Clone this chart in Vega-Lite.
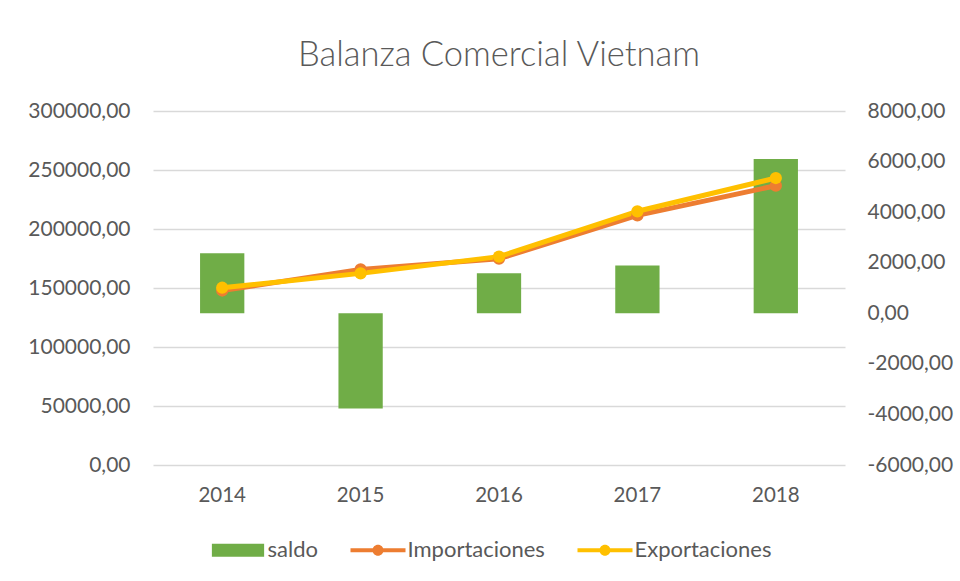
{
  "$schema": "https://vega.github.io/schema/vega-lite/v6.json",
  "width": 692,
  "height": 354,
  "autosize": {"type": "none"},
  "padding": {"left": 153, "top": 111, "right": 115, "bottom": 116},
  "background": "white",
  "title": {
    "text": "Balanza Comercial Vietnam",
    "font": "Lato",
    "fontSize": 34.5,
    "fontWeight": 300,
    "color": "#595959",
    "anchor": "middle",
    "offset": 27
  },
  "config": {
    "font": "Lato",
    "view": {"stroke": null}
  },
  "data": {
    "values": [
      {"year": "2014", "serie": "saldo", "value": 2370},
      {"year": "2015", "serie": "saldo", "value": -3770},
      {"year": "2016", "serie": "saldo", "value": 1580},
      {"year": "2017", "serie": "saldo", "value": 1890},
      {"year": "2018", "serie": "saldo", "value": 6100},
      {"year": "2014", "serie": "Importaciones", "value": 147850},
      {"year": "2015", "serie": "Importaciones", "value": 165780},
      {"year": "2016", "serie": "Importaciones", "value": 174800},
      {"year": "2017", "serie": "Importaciones", "value": 211500},
      {"year": "2018", "serie": "Importaciones", "value": 236700},
      {"year": "2014", "serie": "Exportaciones", "value": 150220},
      {"year": "2015", "serie": "Exportaciones", "value": 162400},
      {"year": "2016", "serie": "Exportaciones", "value": 176580},
      {"year": "2017", "serie": "Exportaciones", "value": 215000},
      {"year": "2018", "serie": "Exportaciones", "value": 243200}
    ]
  },
  "encoding": {
    "x": {
      "field": "year",
      "type": "nominal",
      "sort": null,
      "scale": {"paddingInner": 0.68, "paddingOuter": 0.34},
      "axis": {
        "title": null,
        "labelAngle": 0,
        "labelFont": "Lato",
        "labelFontSize": 20.5,
        "labelColor": "#595959",
        "labelPadding": 20,
        "ticks": false,
        "domain": false,
        "grid": false
      }
    },
    "color": {
      "field": "serie",
      "type": "nominal",
      "scale": {
        "domain": ["saldo", "Importaciones", "Exportaciones"],
        "range": ["#70AD47", "#ED7D31", "#FFC000"]
      },
      "legend": {
        "title": null,
        "orient": "none",
        "direction": "horizontal",
        "legendX": 57.5,
        "legendY": 411.5,
        "labelFont": "Lato",
        "labelFontSize": 22,
        "labelColor": "#595959",
        "labelOffset": 2,
        "columnPadding": 32,
        "symbolSize": 3025,
        "symbolStrokeWidth": 0,
        "symbolOpacity": 1,
        "encode": {
          "symbols": {
            "update": {
              "shape": {"signal": "datum.value === 'saldo' ? 'M-0.95,-0.24L0.95,-0.24L0.95,0.24L-0.95,0.24Z' : 'M-1,-0.075L1,-0.075L1,0.075L-1,0.075Z M0.2,0A0.2,0.2 0 1,1 -0.2,0A0.2,0.2 0 1,1 0.2,0Z'"},
              "fill": {"signal": "datum.value === 'saldo' ? '#70AD47' : datum.value === 'Importaciones' ? '#ED7D31' : '#FFC000'"},
              "stroke": {"value": "transparent"},
              "strokeWidth": {"value": 0},
              "opacity": {"value": 1}
            }
          }
        }
      }
    }
  },
  "layer": [
    {
      "transform": [{"filter": "datum.serie === 'saldo'"}],
      "mark": {"type": "bar"},
      "encoding": {
        "y": {
          "field": "value",
          "type": "quantitative",
          "scale": {"domain": [-6000, 8000], "nice": false, "zero": true},
          "axis": {
            "orient": "right",
            "title": null,
            "values": [-6000, -4000, -2000, 0, 2000, 4000, 6000, 8000],
            "labelExpr": "replace(replace(format(datum.value, '.2f'), '.', ','), '\u2212', '-')",
            "labelFont": "Lato",
            "labelFontSize": 21,
            "labelColor": "#595959",
            "labelPadding": 22,
            "ticks": false,
            "domain": false,
            "grid": false
          }
        }
      }
    },
    {
      "transform": [{"filter": "datum.serie !== 'saldo'"}],
      "mark": {
        "type": "line",
        "strokeWidth": 5,
        "strokeCap": "round",
        "strokeJoin": "round",
        "point": {"filled": true, "size": 150, "opacity": 1}
      },
      "encoding": {
        "y": {
          "field": "value",
          "type": "quantitative",
          "scale": {"domain": [0, 300000], "nice": false},
          "axis": {
            "orient": "left",
            "title": null,
            "values": [0, 50000, 100000, 150000, 200000, 250000, 300000],
            "labelExpr": "replace(format(datum.value, '.2f'), '.', ',')",
            "labelFont": "Lato",
            "labelFontSize": 21,
            "labelColor": "#595959",
            "labelPadding": 23,
            "ticks": false,
            "domain": false,
            "grid": true,
            "gridColor": "#d9d9d9",
            "gridWidth": 1.3
          }
        }
      }
    }
  ],
  "resolve": {"scale": {"y": "independent"}, "axis": {"y": "independent"}}
}
